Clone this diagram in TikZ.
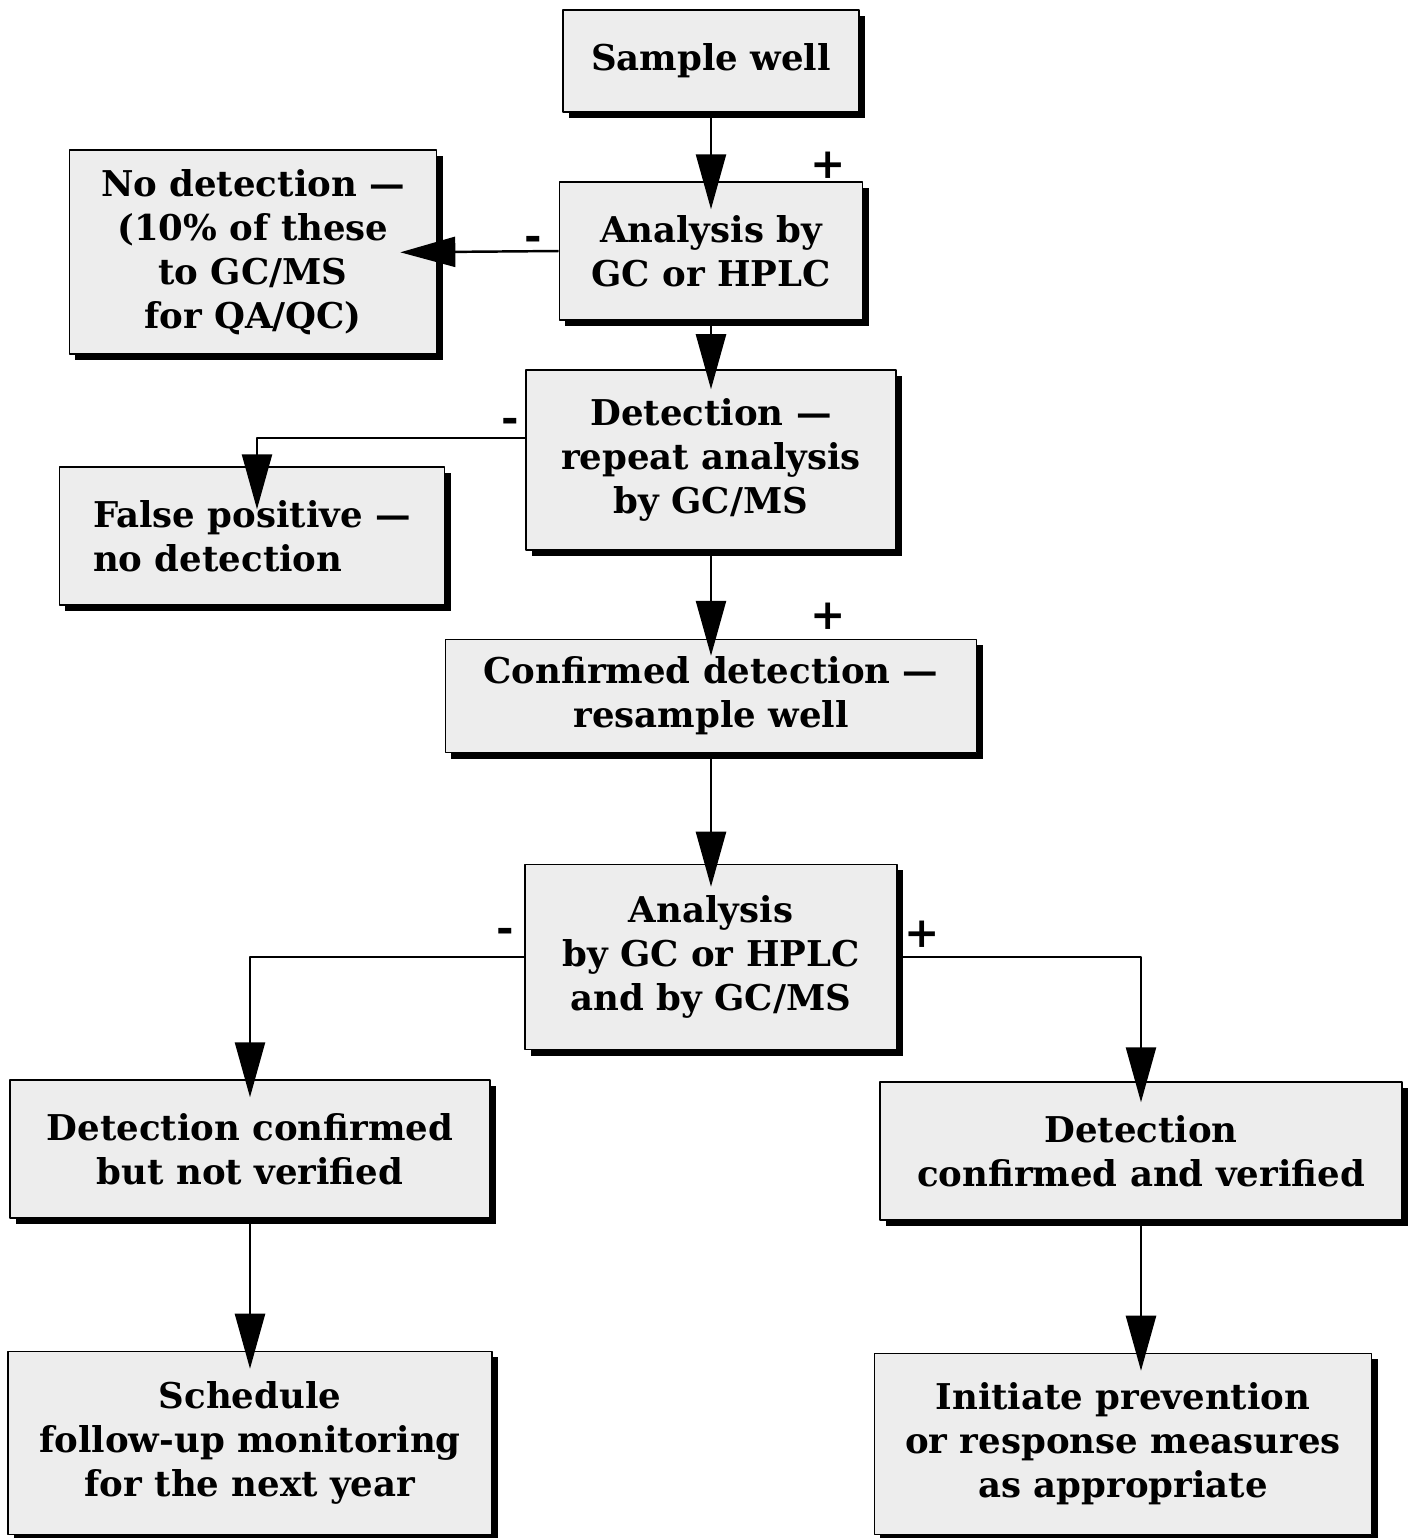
\documentclass[tikz,border=0pt]{standalone}
\usepackage{fontspec}
\setmainfont{DejaVu Serif}
\usetikzlibrary{arrows.meta,shadows}
\begin{document}
\begin{tikzpicture}[x=0.01cm,y=-0.01cm,line join=round,
	>={Triangle[length=0.55cm,width=0.3cm]}]
			\tikzset{box/.style={draw,thin,fill=gray!14,inner sep=0pt,align=center,
				font=\bfseries\fontsize{10.1}{12.5}\selectfont,
				drop shadow={shadow xshift=0.06cm,shadow yshift=-0.06cm,opacity=1,fill=black}},
				link/.style={->,line width=0.7pt},
				sign/.style={font=\bfseries\large}}
			\useasboundingbox (0,0) rectangle (1410,1538);
			\node[box,minimum width=2.96cm,minimum height=1.02cm] (sample) at (711,61) {Sample well};
			\node[box,minimum width=3.03cm,minimum height=1.38cm] (anal1) at (711,251) {Analysis by\\GC or HPLC};
			\node[box,minimum width=3.67cm,minimum height=2.04cm] (nodet) at (253,252) {No detection ---\\(10\% of these\\to GC/MS\\for QA/QC)};
			\node[box,minimum width=3.70cm,minimum height=1.80cm] (detect) at (711,460) {Detection ---\\repeat analysis\\by GC/MS};
			\node[box,minimum width=3.85cm,minimum height=1.38cm,align=left] (falsepos) at (252,536) {False positive ---\\no detection};
			\node[box,minimum width=5.31cm,minimum height=1.13cm] (confirm) at (711,696) {Confirmed detection ---\\resample well};
			\node[box,minimum width=3.72cm,minimum height=1.85cm] (anal2) at (711,957) {Analysis\\by GC or HPLC\\and by GC/MS};
			\node[box,minimum width=4.80cm,minimum height=1.38cm] (notver) at (250,1149) {Detection confirmed\\but not verified};
			\node[box,minimum width=5.22cm,minimum height=1.38cm] (verif) at (1141,1151) {Detection\\confirmed and verified};
			\node[box,minimum width=4.84cm,minimum height=1.83cm] (sched) at (250,1443) {Schedule\\follow-up monitoring\\for the next year};
			\node[box,minimum width=4.97cm,minimum height=1.81cm] (init) at (1123,1444) {Initiate prevention\\or response measures\\as appropriate};
			\draw[link,shorten >=-0.28cm] (sample) -- (anal1);
			\draw[link,shorten >=-0.37cm] (anal1.west) -- (nodet.east);
			\draw[link,shorten >=-0.2cm] (anal1) -- (detect);
			\draw[link,shorten >=-0.43cm] ([yshift=0.22cm]detect.west) -| ([xshift=0.05cm]falsepos.north);
			\draw[link,shorten >=-0.17cm] (detect) -- (confirm);
			\draw[link,shorten >=-0.23cm] (confirm) -- (anal2);
			\draw[link,shorten >=-0.18cm] (anal2.west) -| (notver.north);
			\draw[link,shorten >=-0.21cm] (anal2.east) -| (verif.north);
			\draw[link,shorten >=-0.18cm] (notver) -- (sched);
			\draw[link,shorten >=-0.18cm] (verif.south) -- (init.north -| verif.south);
			\node[sign] (p1) at (828,165) {+};
			\node[sign] (m1) at (533,243) {-};
			\node[sign] (m2) at (510,425) {-};
			\node[sign] (p2) at (828,616) {+};
			\node[sign] (m3) at (505,935) {-};
			\node[sign] (p3) at (922,934) {+};
		\end{tikzpicture}
\end{document}
